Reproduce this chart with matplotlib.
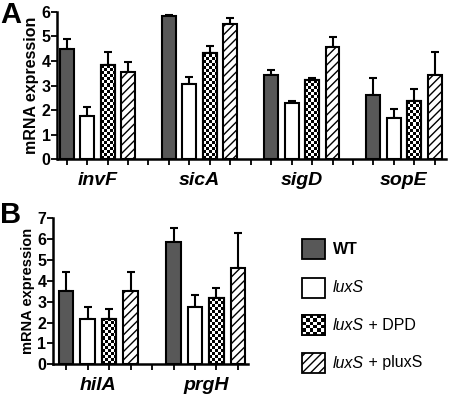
import numpy as np
import matplotlib
matplotlib.use('Agg')
import matplotlib.pyplot as plt
from matplotlib.patches import Rectangle

plt.rcParams['font.family'] = ['Liberation Sans', 'DejaVu Sans']
plt.rcParams['hatch.linewidth'] = 1.0

# panel A data
genes_a = ['invF', 'sicA', 'sigD', 'sopE']
wt_a = [4.49, 5.84, 3.43, 2.63]
wt_a_err = [0.40, 0.03, 0.19, 0.66]
luxs_a = [1.76, 3.05, 2.28, 1.67]
luxs_a_err = [0.38, 0.31, 0.08, 0.36]
dpd_a = [3.83, 4.34, 3.22, 2.36]
dpd_a_err = [0.53, 0.28, 0.10, 0.50]
plux_a = [3.56, 5.49, 4.55, 3.43]
plux_a_err = [0.40, 0.27, 0.41, 0.93]

# panel B data
genes_b = ['hilA', 'prgH']
wt_b = [3.53, 5.86]
wt_b_err = [0.88, 0.69]
luxs_b = [2.16, 2.75]
luxs_b_err = [0.60, 0.56]
dpd_b = [2.16, 3.19]
dpd_b_err = [0.49, 0.47]
plux_b = [3.51, 4.60]
plux_b_err = [0.90, 1.68]

labels = ['WT', 'luxS', 'luxS + DPD', 'luxS + pluxS']

W, H = 450, 395
fig = plt.figure(figsize=(W / 100, H / 100), dpi=100)

def px_axes(left, right, top, bottom):
    return fig.add_axes([left / W, 1 - bottom / H, (right - left) / W, (bottom - top) / H])

def checker(ax, bar, cell_px=3.0, zorder=2):
    # checkerboard fill clipped to a bar
    x0 = bar.get_x(); w = bar.get_width(); h = bar.get_height()
    xl = ax.get_xlim(); yl = ax.get_ylim()
    cw = cell_px * (xl[1] - xl[0]) / ax.bbox.width
    ch = cell_px * (yl[1] - yl[0]) / ax.bbox.height
    nx = int(np.ceil(w / cw)); ny = int(np.ceil(h / ch))
    ii, jj = np.meshgrid(np.arange(nx), np.arange(ny))
    img = ((ii + jj) % 2).astype(float)
    im = ax.imshow(img, extent=(x0, x0 + nx * cw, 0, ny * ch), origin='lower',
                   cmap='gray', vmin=0, vmax=1, interpolation='nearest',
                   aspect='auto', zorder=zorder)
    im.set_clip_path(bar)

def draw_panel(ax, genes, series, errs, ymax, xlim, ylab_size):
    ax.set_xlim(*xlim)
    ax.set_ylim(0, ymax)
    n = len(genes)
    styles = [dict(color='#585858'), dict(color='white'),
              dict(color='white'), dict(color='white', hatch='////')]
    dpd_bars = None
    for k in range(4):
        x = np.arange(n) * 5 + k
        bars = ax.bar(x, series[k], width=0.68, edgecolor='black', linewidth=1.5,
                      zorder=1, **styles[k])
        ax.errorbar(x, series[k], yerr=[np.zeros(n), errs[k]], fmt='none',
                    ecolor='black', elinewidth=1.5, capsize=3, capthick=1.5, zorder=0)
        if k == 2:
            dpd_bars = bars
    for b in dpd_bars:
        checker(ax, b)
    # outlines back on top of the checker fill
    ax.bar(np.arange(n) * 5 + 2, series[2], width=0.68, facecolor='none',
           edgecolor='black', linewidth=1.5, zorder=3)
    for s in ['top', 'right']:
        ax.spines[s].set_visible(False)
    for s in ['left', 'bottom']:
        ax.spines[s].set_linewidth(1.8)
    ax.set_xticks(np.arange(0, int(xlim[1]) + 1))
    ax.set_xticklabels([])
    ax.set_xticks(np.arange(n) * 5 + 1.5, minor=True)
    ax.set_xticklabels(genes, minor=True, fontsize=14, fontweight='bold', style='italic')
    ax.tick_params(axis='x', which='minor', length=0, pad=9)
    ax.tick_params(axis='x', which='major', length=4, width=1.3)
    ax.set_yticks(np.arange(0, ymax + 1))
    ax.tick_params(axis='y', length=4, width=1.3, pad=1, labelsize=11.5)
    for t in ax.get_yticklabels():
        t.set_fontweight('bold')
    ax.set_ylabel('mRNA expression', fontsize=ylab_size, fontweight='bold', labelpad=2)

axA = px_axes(57.5, 446, 11.7, 159.5)
draw_panel(axA, genes_a, [wt_a, luxs_a, dpd_a, plux_a],
           [wt_a_err, luxs_a_err, dpd_a_err, plux_a_err], 6, (-0.45, 18.55), 11.5)

axB = px_axes(53.3, 248, 218.3, 364.3)
draw_panel(axB, genes_b, [wt_b, luxs_b, dpd_b, plux_b],
           [wt_b_err, luxs_b_err, dpd_b_err, plux_b_err], 7, (-0.6, 8.47), 10.5)

fig.text(0 / W, 1 - 1 / H, 'A', fontsize=21, fontweight='bold', va='top', ha='left')
fig.text(0 / W, 1 - 201 / H, 'B', fontsize=21, fontweight='bold', va='top', ha='left')

# legend drawn by hand in pixel units
lax = px_axes(295, 450, 230, 385)
lax.set_xlim(295, 450)
lax.set_ylim(385, 230)
lax.axis('off')
tops = [239, 278, 315, 353]
faces = ['#585858', 'white', 'white', 'white']
hatches = [None, None, None, '////']
for i, lab in enumerate(labels):
    r = Rectangle((302, tops[i]), 23, 20, facecolor=faces[i], edgecolor='black',
                  linewidth=1.3, hatch=hatches[i], zorder=1)
    lax.add_patch(r)
    if i == 2:
        cells = 6
        ii, jj = np.meshgrid(np.arange(cells + 1), np.arange(cells))
        img = ((ii + jj) % 2).astype(float)
        im = lax.imshow(img, extent=(302, 302 + 23 * (cells + 1) / cells, tops[i] + 20, tops[i]),
                        origin='upper', cmap='gray', vmin=0, vmax=1,
                        interpolation='nearest', aspect='auto', zorder=2)
        im.set_clip_path(r)
        lax.add_patch(Rectangle((302, tops[i]), 23, 20, facecolor='none',
                                edgecolor='black', linewidth=1.3, zorder=3))
    yc = tops[i] + 10
    if lab.startswith('luxS'):
        t = lax.text(333, yc, 'luxS', fontsize=11.5, style='italic', va='center', ha='left')
        if len(lab) > 4:
            lax.annotate(lab[4:], xycoords=t, xy=(1, 0.5), va='center', ha='left',
                         fontsize=11.5)
    else:
        lax.text(333, yc, lab, fontsize=11.5, fontweight='bold', va='center', ha='left')

fig.savefig('out.png', dpi=100)
